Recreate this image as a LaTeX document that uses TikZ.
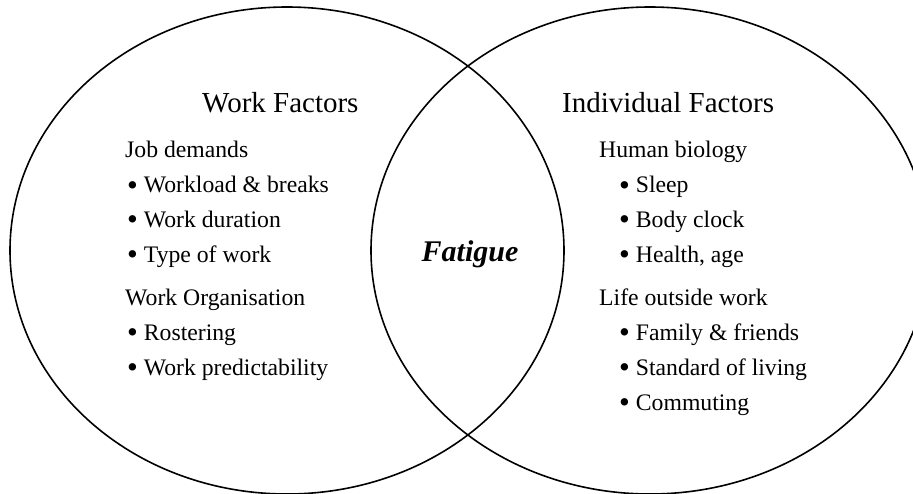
\documentclass[tikz,border=0pt]{standalone}
\usepackage{fontspec}
\usepackage{graphicx}
\setmainfont{Liberation Serif}
\newcommand{\vbul}{\raisebox{-0.1em}{\scalebox{1.3}{\textbullet}}}
\begin{document}
\begin{tikzpicture}[x=1pt,y=-1pt,
  venn/.style={draw=black,line width=1.6pt},
  title/.style={anchor=base west,inner sep=0pt,font=\fontsize{29}{34}\selectfont},
  head/.style={anchor=base west,inner sep=0pt,font=\fontsize{23.7}{28}\selectfont},
  item/.style={anchor=base west,inner sep=0pt,font=\fontsize{23.7}{28}\selectfont},
  center/.style={anchor=base,inner sep=0pt,font=\fontsize{30}{36}\selectfont\bfseries\itshape}]
\useasboundingbox (0,0) rectangle (913,493);
\draw[venn] (287,250.5) ellipse [x radius=277, y radius=243.5];
\draw[venn] (650,250.5) ellipse [x radius=279, y radius=243.5];
% left
\node[title] (wf) at (202,112.7) {Work Factors};
\node[head] (jd) at (125,157) {Job demands};
\node[item] (l1) at (127,192.7) {\vbul\ Workload \& breaks};
\node[item] (l2) at (127,227.3) {\vbul\ Work duration};
\node[item] (l3) at (127,262) {\vbul\ Type of work};
\node[head] (wo) at (125,305) {Work Organisation};
\node[item] (l4) at (127,340) {\vbul\ Rostering};
\node[item] (l5) at (127,375) {\vbul\ Work predictability};
% right
\node[title] (if) at (562,112.7) {Individual Factors};
\node[head] (hb) at (599,157) {Human biology};
\node[item] (r1) at (619,192.7) {\vbul\ Sleep};
\node[item] (r2) at (619,227.3) {\vbul\ Body clock};
\node[item] (r3) at (619,262) {\vbul\ Health, age};
\node[head] (lo) at (599,305) {Life outside work};
\node[item] (r4) at (619,340) {\vbul\ Family \& friends};
\node[item] (r5) at (619,375) {\vbul\ Standard of living};
\node[item] (r6) at (619,410) {\vbul\ Commuting};
% center
\node[center] (fat) at (470,261.7) {Fatigue};
\end{tikzpicture}
\end{document}
